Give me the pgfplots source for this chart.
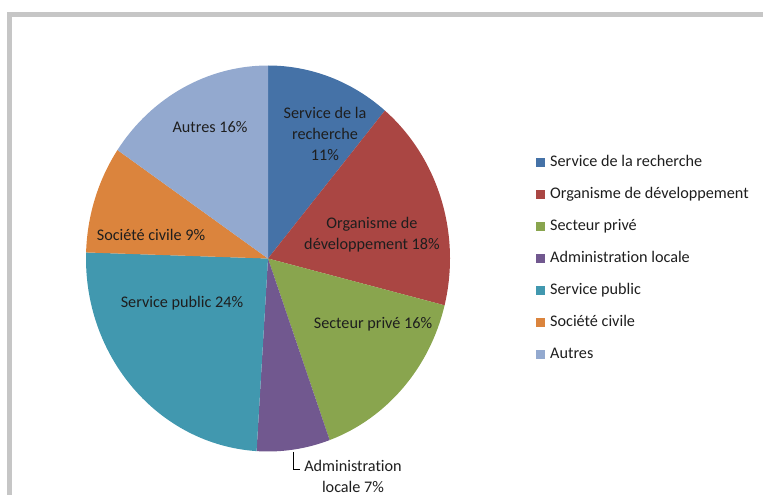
\documentclass[border=0pt]{standalone}
\usepackage{pgfplots}
\pgfplotsset{compat=1.18}
\usepackage{pgfplotstable}
\usepackage{fontspec}
\setmainfont[Ligatures=NoCommon]{Carlito}

\definecolor{cRech}{RGB}{69,114,167}
\definecolor{cOrg}{RGB}{170,70,67}
\definecolor{cPriv}{RGB}{137,165,78}
\definecolor{cAdm}{RGB}{113,88,143}
\definecolor{cPub}{RGB}{65,152,175}
\definecolor{cCiv}{RGB}{219,132,61}
\definecolor{cAut}{RGB}{147,169,207}
\definecolor{frame}{RGB}{198,198,198}
\definecolor{txt}{RGB}{30,30,30}

% parts in percent, clockwise from 12 o'clock
\pgfplotstableread{
value
11.1
17.8
15.6
6.5
24.5
9.0
15.5
}\pietable

\begin{document}
\begin{tikzpicture}[font=\fontsize{16.2bp}{21bp}\selectfont, every node/.style={text=txt}]
\begin{axis}[
    hide axis,
    at={(0,0)}, anchor=south west,
    x=1bp, y=1bp,
    xmin=0, xmax=763, ymin=0, ymax=495,
    clip=false,
]
\pgfplotsextra{
  % pie, centre (268,236.5), radii 182 x 193
  \xdef\startang{90}
  \foreach \i/\c in {0/cRech,1/cOrg,2/cPriv,3/cAdm,4/cPub,5/cCiv,6/cAut}{
    \pgfplotstablegetelem{\i}{value}\of\pietable
    \pgfmathsetmacro\endang{\startang-3.6*\pgfplotsretval}
    \fill[fill=\c] (axis cs:268,236.5) -- ++(\startang:182bp and 193bp)
      arc[start angle=\startang, end angle=\endang, x radius=182bp, y radius=193bp] -- cycle;
    \xdef\startang{\endang}
  }
  % legend
  \foreach \c/\t [count=\k from 0] in {cRech/Service de la recherche,
      cOrg/Organisme de développement, cPriv/Secteur privé,
      cAdm/Administration locale, cPub/Service public,
      cCiv/Société civile, cAut/Autres}{
    \pgfmathsetmacro\ly{332-32*\k}
    \fill[\c] (axis cs:536,\ly-4.5) rectangle (axis cs:545,\ly+4.5);
    \node[anchor=mid west, inner sep=0pt] at (axis cs:550,\ly-1.5) {\t};
  }
}
% slice labels
\node[align=center, inner sep=0pt] at (axis cs:325,361) {Service de la\\recherche\\11\%};
\node[align=center, inner sep=0pt] at (axis cs:372,260) {Organisme de\\développement 18\%};
\node[inner sep=0pt, anchor=mid] at (axis cs:373,168.5) {Secteur privé 16\%};
\node[align=center, inner sep=0pt] at (axis cs:353,19) {Administration\\locale 7\%};
\draw[black, line width=0.8bp] (axis cs:293.5,43) -- (axis cs:293.5,26) -- (axis cs:300,26);
\node[inner sep=0pt, anchor=mid] at (axis cs:151,256.5) {Société civile 9\%};
\node[inner sep=0pt, anchor=mid] at (axis cs:182,189.5) {Service public 24\%};
\node[inner sep=0pt, anchor=mid] at (axis cs:210,364.5) {Autres 16\%};
% chart frame (cut off at right and bottom)
\draw[frame, line width=5bp] (axis cs:9.5,0) -- (axis cs:9.5,480.5) -- (axis cs:763,480.5);
\end{axis}
\pgfresetboundingbox
\useasboundingbox (0,0) rectangle (763bp,495bp);
\end{tikzpicture}
\end{document}
